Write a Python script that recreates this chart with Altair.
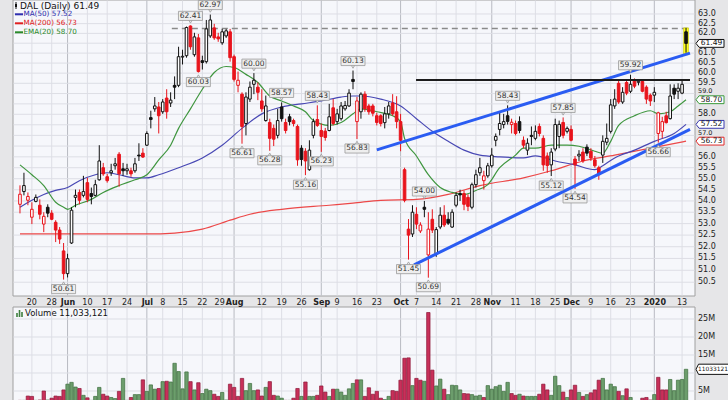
import altair as alt
import pandas as pd

# ---------------- data ----------------
holidays = ["2019-05-27", "2019-07-04", "2019-09-02", "2019-11-28", "2019-12-25", "2020-01-01"]
trading_days = [d.strftime("%Y-%m-%d") for d in pd.bdate_range("2019-05-15", "2020-01-14")
                if d.strftime("%Y-%m-%d") not in holidays]

opens = [53.85, 54.42, 54.03, 53.28, 53.98, 53.81, 52.98, 53.72, 53.46, 53.06,
         52.72, 51.82, 50.86, 52.16, 54.16, 54.38, 54.25, 54.82, 54.33, 54.25,
         54.95, 55.50, 55.09, 55.27, 55.59, 56.12, 55.45, 55.36, 55.36, 55.36,
         56.08, 56.17, 56.54, 57.84, 58.26, 58.35, 58.12, 58.78, 58.54, 59.40,
         59.40, 60.80, 60.87, 62.38, 60.92, 61.77, 60.62, 60.57, 61.87, 62.28,
         61.82, 61.52, 61.87, 62.08, 60.82, 59.40, 58.97, 57.56, 58.73, 59.45,
         59.31, 58.64, 57.70, 57.61, 57.33, 57.00, 58.35, 57.61, 57.88, 57.70,
         57.42, 56.40, 56.26, 55.41, 57.00, 57.75, 57.23, 57.20, 57.23, 58.31,
         57.65, 57.79, 58.26, 58.40, 59.69, 57.65, 58.12, 58.97, 58.40, 58.40,
         57.93, 57.93, 57.60, 58.02, 58.54, 58.12, 57.65, 55.41, 52.76, 52.55,
         53.41, 52.68, 53.72, 51.65, 53.19, 51.70, 52.85, 53.37, 53.19, 52.85,
         53.81, 54.33, 54.33, 54.16, 53.72, 54.73, 55.27, 54.91, 55.13, 55.59,
         56.77, 57.28, 57.51, 57.93, 57.51, 57.56, 57.65, 56.77, 56.31, 57.00,
         56.86, 57.42, 56.86, 56.04, 55.63, 56.36, 56.95, 57.61, 57.19, 57.28,
         55.90, 56.04, 56.22, 56.45, 56.26, 55.86, 55.50, 56.08, 56.68, 57.19,
         58.40, 59.50, 58.59, 59.54, 59.11, 59.65, 59.55, 59.59, 59.31, 58.92,
         58.92, 57.09, 57.19, 57.93, 57.79, 59.26, 59.11, 59.02, 62.08]
highs = [54.70, 55.27, 54.38, 53.94, 54.29, 54.07, 53.50, 53.85, 53.59, 53.15,
         52.85, 52.16, 51.70, 53.72, 54.51, 54.51, 55.13, 55.04, 54.60, 54.95,
         56.54, 55.72, 55.22, 55.68, 55.95, 56.22, 55.72, 55.68, 55.50, 55.95,
         56.63, 56.40, 57.19, 58.17, 58.83, 58.59, 58.73, 59.21, 59.06, 59.84,
         61.32, 61.17, 62.35, 62.41, 62.03, 61.97, 60.87, 62.69, 62.97, 62.49,
         62.03, 62.23, 62.23, 62.23, 60.92, 60.08, 59.06, 59.06, 59.59, 60.00,
         59.54, 59.21, 58.90, 57.79, 57.51, 58.26, 58.57, 57.79, 58.02, 57.79,
         57.51, 56.54, 56.40, 56.77, 57.79, 58.43, 57.56, 57.35, 58.50, 58.73,
         58.26, 58.59, 58.64, 59.21, 60.13, 58.83, 59.06, 59.11, 58.50, 58.50,
         58.07, 58.00, 58.35, 58.59, 58.97, 58.87, 58.02, 55.50, 53.20, 53.81,
         53.72, 53.06, 54.00, 53.50, 53.63, 52.85, 53.72, 53.81, 53.50, 53.63,
         54.38, 54.50, 54.47, 54.30, 54.82, 55.41, 55.95, 55.36, 55.72, 56.40,
         57.09, 58.12, 58.02, 58.43, 57.79, 57.70, 57.90, 56.95, 56.86, 57.42,
         57.47, 57.56, 57.00, 56.20, 56.40, 57.79, 57.70, 57.85, 57.42, 57.47,
         56.04, 56.31, 56.40, 56.58, 56.40, 56.04, 55.59, 57.00, 57.56, 58.73,
         59.21, 59.69, 59.31, 59.69, 59.92, 59.74, 59.70, 59.69, 59.40, 59.00,
         59.31, 58.12, 57.88, 58.12, 59.45, 59.45, 59.50, 59.69, 62.28]
lows = [53.45, 54.25, 53.81, 52.98, 53.94, 53.19, 52.63, 53.28, 53.15, 52.20,
        52.12, 50.61, 50.70, 52.12, 53.72, 53.85, 54.16, 53.94, 53.85, 54.20,
        54.91, 55.13, 54.82, 55.13, 55.41, 54.64, 55.13, 55.18, 55.09, 55.27,
        55.81, 55.95, 56.50, 57.33, 58.12, 57.09, 58.02, 57.79, 58.35, 58.73,
        59.31, 60.43, 60.77, 61.17, 60.82, 60.03, 60.18, 60.48, 61.77, 61.67,
        61.57, 61.42, 61.77, 60.57, 59.59, 59.06, 56.61, 57.00, 58.59, 58.97,
        58.68, 58.12, 57.65, 56.28, 56.50, 56.86, 57.65, 57.09, 57.47, 57.42,
        55.59, 55.59, 55.16, 55.36, 56.86, 57.40, 56.23, 56.75, 57.19, 57.47,
        57.51, 57.70, 58.17, 58.35, 59.21, 56.83, 57.79, 58.12, 57.98, 57.90,
        57.47, 57.42, 57.33, 57.79, 57.93, 57.33, 56.26, 53.94, 51.45, 52.42,
        52.76, 52.59, 53.28, 50.69, 52.59, 51.57, 52.76, 52.85, 52.94, 52.81,
        53.72, 54.00, 53.59, 53.55, 53.63, 54.60, 55.13, 54.51, 55.04, 55.50,
        56.49, 57.00, 57.33, 57.51, 57.09, 57.00, 57.10, 56.40, 56.08, 56.54,
        56.77, 56.95, 55.36, 55.27, 55.12, 56.26, 56.40, 56.86, 57.09, 56.72,
        54.54, 55.81, 55.72, 56.04, 55.81, 55.50, 54.95, 55.72, 56.54, 57.09,
        58.26, 58.50, 58.50, 58.92, 59.02, 59.26, 59.40, 59.06, 58.50, 58.40,
        58.59, 56.66, 56.86, 57.56, 57.75, 58.73, 58.73, 58.97, 61.02]
closes = [54.30, 54.69, 54.20, 53.63, 54.16, 53.41, 53.32, 53.46, 53.19, 52.72,
          52.33, 50.86, 51.49, 53.59, 54.25, 54.03, 54.42, 54.07, 54.20, 54.73,
          55.81, 55.22, 54.91, 55.36, 55.68, 55.22, 55.36, 55.45, 55.22, 55.68,
          56.04, 55.99, 57.09, 57.75, 58.40, 57.93, 58.59, 58.12, 58.68, 59.31,
          60.82, 60.84, 62.30, 61.32, 61.82, 60.08, 60.53, 62.23, 62.69, 61.77,
          61.72, 62.08, 62.13, 60.77, 59.69, 59.65, 57.42, 58.83, 59.31, 59.65,
          59.06, 58.26, 58.40, 56.86, 56.82, 57.70, 57.79, 57.23, 57.65, 57.56,
          55.86, 55.88, 55.81, 56.31, 57.65, 57.47, 56.95, 56.90, 57.88, 57.56,
          58.02, 58.40, 58.42, 59.02, 59.59, 58.64, 58.97, 58.26, 58.12, 58.05,
          57.61, 57.56, 58.02, 58.40, 58.02, 57.65, 56.77, 54.03, 52.50, 53.50,
          52.98, 52.94, 53.63, 52.76, 52.72, 52.74, 53.37, 52.94, 53.02, 53.50,
          54.25, 54.27, 53.85, 53.76, 54.73, 55.18, 55.50, 55.13, 55.59, 56.08,
          56.95, 57.56, 57.65, 57.66, 57.62, 57.09, 57.23, 56.54, 56.63, 56.95,
          57.19, 57.09, 55.63, 55.60, 56.22, 57.51, 57.52, 57.00, 57.33, 56.77,
          55.63, 56.12, 55.81, 56.17, 55.95, 55.59, 55.18, 56.72, 56.86, 58.45,
          58.73, 58.59, 59.06, 59.02, 59.45, 59.36, 59.60, 59.11, 58.73, 58.64,
          59.06, 58.07, 57.65, 57.60, 58.88, 58.97, 59.26, 59.45, 61.49]
volumes_m = [2.4, 2.4, 3.6, 3.5, 2.4, 2.5, 5.0, 2.5, 3.0, 3.6,
             3.5, 5.3, 6.9, 7.4, 6.1, 5.7, 3.8, 3.1, 2.4, 3.5,
             6.0, 4.1, 3.6, 3.2, 2.9, 4.9, 8.5, 2.4, 3.2, 4.0,
             4.0, 8.1, 4.9, 6.7, 5.5, 5.7, 7.6, 7.7, 7.5, 12.7,
             10.4, 5.6, 10.3, 7.6, 5.3, 7.3, 4.3, 5.5, 5.1, 4.1,
             3.5, 4.6, 2.5, 6.9, 6.0, 3.5, 8.5, 5.1, 7.1, 5.1,
             5.3, 3.6, 6.0, 7.6, 3.8, 3.6, 3.0, 2.4, 2.4, 3.0,
             5.7, 3.5, 7.5, 3.5, 3.5, 3.8, 6.4, 4.7, 3.5, 5.5,
             5.5, 4.7, 3.8, 5.6, 7.1, 8.1, 8.1, 3.5, 5.9, 4.1,
             4.9, 3.0, 2.6, 3.5, 5.1, 4.9, 8.0, 14.1, 14.2, 6.5,
             8.5, 8.0, 7.7, 26.8, 10.8, 6.4, 8.3, 5.5, 4.0, 6.6,
             6.5, 5.3, 4.3, 4.2, 4.0, 3.6, 3.8, 3.2, 6.5, 5.5,
             6.2, 6.6, 4.9, 7.4, 4.3, 3.8, 4.1, 3.6, 3.5, 3.5,
             3.5, 4.1, 6.9, 5.3, 3.8, 9.1, 6.5, 4.7, 3.2, 5.3,
             6.6, 4.6, 3.5, 4.0, 4.5, 5.3, 8.0, 8.5, 5.3, 6.9,
             6.2, 4.9, 3.7, 5.6, 3.2, 2.0, 1.5, 3.0, 3.2, 2.5,
             4.0, 8.8, 5.3, 5.3, 8.2, 5.1, 8.0, 8.2, 11.033121]

# moving averages read at sample days (trading-day index, value)
ema20_j = [0, 3, 6, 9, 11, 12, 14, 18, 21, 25, 29, 32, 35, 38, 40, 43, 46, 49, 52, 54,
           57, 60, 63, 66, 69, 72, 74, 78, 81, 84, 86, 90, 94, 96, 97, 100, 103, 106, 109, 112,
           115, 118, 121, 125, 127, 130, 134, 138, 141, 145, 147, 149, 151, 155, 159, 161, 164, 166, 168]
ema20_v = [55.63, 55.18, 54.69, 53.94, 53.72, 53.63, 53.81, 54.07, 54.38, 54.69, 54.95, 55.18, 55.86, 56.54, 57.33, 58.26, 59.21, 60.03, 60.33, 60.28,
           59.94, 59.54, 58.88, 58.64, 58.40, 58.12, 57.70, 57.47, 57.61, 58.02, 58.26, 58.12, 57.93, 57.65, 56.86, 56.04, 55.18, 54.60, 54.38, 54.29,
           54.47, 54.73, 55.50, 56.08, 56.40, 56.40, 56.54, 56.54, 56.49, 56.26, 56.17, 56.72, 57.47, 57.93, 58.17, 58.02, 58.12, 58.40, 58.70]
ma50_j = [0, 3, 6, 9, 12, 15, 19, 22, 25, 29, 32, 35, 40, 46, 51, 56, 61, 66, 71, 76,
          81, 84, 86, 91, 96, 100, 104, 108, 112, 116, 121, 127, 130, 135, 140, 145, 147, 150, 155, 160,
          165, 168]
ma50_v = [53.72, 54.03, 54.29, 54.47, 54.60, 54.91, 55.18, 55.27, 55.18, 55.04, 55.04, 55.18, 55.50, 55.95, 56.54, 57.33, 58.02, 58.35, 58.50, 58.64,
          58.83, 58.88, 58.88, 58.73, 58.40, 57.79, 57.19, 56.72, 56.31, 56.08, 56.00, 55.95, 56.04, 55.81, 55.63, 55.41, 55.59, 55.95, 56.31, 56.72,
          57.09, 57.52]
ma200_j = [0, 13, 21, 32, 39, 46, 53, 58, 66, 78, 84, 91, 100, 108, 116, 127, 134, 142, 150, 159, 168]
ma200_v = [52.55, 52.55, 52.55, 52.55, 52.59, 52.76, 53.15, 53.41, 53.63, 53.81, 53.90, 54.03, 54.07, 54.29, 54.69, 55.04, 55.36, 55.81, 56.08, 56.40, 56.73]

# drawn lines: (day, price) end points
trend_upper = [(90.0, 56.32), (169.0, 61.00)]
trend_lower = [(99.4, 51.23), (169.0, 57.28)]
resistance = [(99.9, 59.66), (169.0, 59.66)]
dashed_level = [(38.3, 62.25), (169.0, 62.25)]

# labelled highs / lows
ann_j = [43, 48, 45, 59, 56, 66, 63, 75, 76, 72, 84, 85, 102, 98, 103, 123, 137, 134, 140, 154, 161, 11]
ann_v = [62.41, 62.97, 60.03, 60.00, 56.61, 58.57, 56.28, 58.43, 56.23, 55.16, 60.13, 56.83, 54.00, 51.45,
         50.69, 58.43, 57.85, 55.12, 54.54, 59.92, 56.66, 50.61]
ann_pos = ["a", "a", "b", "a", "b", "a", "b", "a", "b", "b", "a", "b", "a", "b",
           "b", "a", "a", "b", "b", "a", "b", "b"]

tick_dates = ["2019-05-20", "2019-05-28", "2019-06-03", "2019-06-10", "2019-06-17", "2019-06-24",
              "2019-07-01", "2019-07-08", "2019-07-15", "2019-07-22", "2019-07-29", "2019-08-01",
              "2019-08-12", "2019-08-19", "2019-08-26", "2019-09-03", "2019-09-09", "2019-09-16",
              "2019-09-23", "2019-10-01", "2019-10-07", "2019-10-14", "2019-10-21", "2019-10-28",
              "2019-11-01", "2019-11-11", "2019-11-18", "2019-11-25", "2019-12-02", "2019-12-09",
              "2019-12-16", "2019-12-23", "2020-01-02", "2020-01-13"]
tick_labels = ["20", "28", "Jun", "10", "17", "24", "Jul", "8", "15", "22", "29", "Aug", "12", "19",
               "26", "Sep", "9", "16", "23", "Oct", "7", "14", "21", "28", "Nov", "11", "18", "25",
               "Dec", "9", "16", "23", "2020", "13"]
month_labels = ["Jun", "Jul", "Aug", "Sep", "Oct", "Nov", "Dec", "2020"]
price_ticks = [50.5, 51.0, 51.5, 52.0, 52.5, 53.0, 53.5, 54.0, 54.5, 55.0, 55.5, 56.0, 56.5,
               57.0, 57.5, 58.0, 58.5, 59.0, 59.5, 60.0, 60.5, 61.0, 61.5, 62.0, 62.5, 63.0]
hidden_price_labels = [61.5, 58.5, 57.5, 56.5]   # sit under the value tags
squeezed_price_labels = [59.0, 57.0]             # drawn a little smaller, between tags
vol_ticks = [5, 10, 15, 20, 25]
hidden_vol_labels = [10]

tag_values = [61.49, 58.70, 57.52, 56.73]
tag_colors = ["#111111", "#3a9a3a", "#3a3ab0", "#e02a2a"]

# ---------------- frames ----------------
RED, BLACK = "#e8141c", "#111111"
df = pd.DataFrame({"j": range(len(trading_days)), "date": trading_days,
                   "o": opens, "h": highs, "l": lows, "c": closes, "v": volumes_m})
prev = df["c"].shift(1)
up = (df["c"] >= prev)
up.iloc[0] = False
df["stroke"] = [BLACK if u else RED for u in up]
df["fill"] = ["#ffffff" if c > o else s for c, o, s in zip(df["c"], df["o"], df["stroke"])]
df["vfill"] = ["#6c9d6c" if u else "#c8305a" for u in up]
df["vstroke"] = ["#3e6e3e" if u else "#8c1838" for u in up]

GRID = "#dddee5"
tick_j = [trading_days.index(d) for d in tick_dates]
ticks_df = pd.DataFrame({"j": tick_j, "lab": tick_labels,
                         "month": [t in month_labels for t in tick_labels]})
ticks_df["gcol"] = ["#b8bac2" if m else GRID for m in ticks_df["month"]]

# ---------------- geometry ----------------
W, HTOT = 682, 400          # plot-area width, total height
MAIN_BOTTOM = 296           # bottom of the price panel
VOL_TOP = 307               # top of the volume panel
FONT = "DejaVu Sans"

xs = alt.Scale(domain=[-0.5, 169.0], nice=False, zero=False)
ys = alt.Scale(type="log", domain=[49.93, 63.73], range=[MAIN_BOTTOM, 0], nice=False, zero=False)
vs = alt.Scale(domain=[2.5, 28.33], range=[HTOT, VOL_TOP], nice=False, zero=False)

X = alt.X("j:Q", scale=xs, axis=None)


def Y(f):
    return alt.Y(f, scale=ys, axis=None)


def YV(f):
    return alt.Y(f, scale=vs, axis=None)


one = pd.DataFrame({"k": [0]})

# panels
panel_main = alt.Chart(one).mark_rect(fill="#f6f7fb", stroke="#a0a0a0", strokeWidth=1).encode(
    x=alt.value(0), x2=alt.value(W), y=alt.value(0), y2=alt.value(MAIN_BOTTOM))
panel_vol = alt.Chart(one).mark_rect(fill="#f6f7fb", stroke="#a0a0a0", strokeWidth=1).encode(
    x=alt.value(0), x2=alt.value(W), y=alt.value(VOL_TOP), y2=alt.value(HTOT + 2))

# grids
vgrid_main = alt.Chart(ticks_df).mark_rule(strokeWidth=1).encode(
    x=X, y=alt.value(0.5), y2=alt.value(MAIN_BOTTOM - 0.5), color=alt.Color("gcol:N", scale=None))
vgrid_vol = alt.Chart(ticks_df).mark_rule(strokeWidth=1).encode(
    x=X, y=alt.value(VOL_TOP + 0.5), y2=alt.value(HTOT), color=alt.Color("gcol:N", scale=None))
pt_df = pd.DataFrame({"p": price_ticks, "txt": [f"{v:.1f}" for v in price_ticks]})
hgrid_main = alt.Chart(pt_df).mark_rule(color=GRID, strokeWidth=1).encode(
    y=Y("p:Q"), x=alt.value(0.5), x2=alt.value(W - 0.5))
normal_lab = pt_df[~pt_df["p"].isin(hidden_price_labels + squeezed_price_labels)]
squeezed_lab = pt_df[pt_df["p"].isin(squeezed_price_labels)]
ylabels = alt.Chart(normal_lab).mark_text(
    font=FONT, fontSize=8, color="#222222", align="left", baseline="middle").encode(
    x=alt.value(W + 3), y=Y("p:Q"), text="txt:N")
ylabels_sq = alt.Chart(squeezed_lab).mark_text(
    font=FONT, fontSize=6.5, color="#222222", align="left", baseline="middle", dy=-2.6).encode(
    x=alt.value(W + 3), y=Y("p:Q"), text="txt:N")
vt_df = pd.DataFrame({"v": vol_ticks, "txt": [f"{v}M" for v in vol_ticks]})
hgrid_vol = alt.Chart(vt_df).mark_rule(color=GRID, strokeWidth=1).encode(
    y=YV("v:Q"), x=alt.value(0.5), x2=alt.value(W - 0.5))
vlabels = alt.Chart(vt_df[~vt_df["v"].isin(hidden_vol_labels)]).mark_text(
    font=FONT, fontSize=8, color="#222222", align="left", baseline="middle").encode(
    x=alt.value(W + 3), y=YV("v:Q"), text="txt:N")

# candles
base = alt.Chart(df)
wicks = base.mark_rule(strokeWidth=1).encode(
    x=X, y=Y("l:Q"), y2="h:Q", color=alt.Color("stroke:N", scale=None))
bodies = base.mark_bar(size=2.6, strokeWidth=1).encode(
    x=X, y=Y("o:Q"), y2="c:Q",
    fill=alt.Fill("fill:N", scale=None), stroke=alt.Stroke("stroke:N", scale=None))
highlight = alt.Chart(df[df["j"] == len(trading_days) - 1]).mark_bar(
    size=5, color="#ffff20", stroke="#c8c800", strokeWidth=0.6).encode(
    x=X, y=Y("h:Q"), y2=alt.Y2(datum=60.92))


def series(js, vals, color, width=1.2):
    return alt.Chart(pd.DataFrame({"j": js, "p": vals})).mark_line(
        color=color, strokeWidth=width, interpolate="monotone").encode(x=X, y=Y("p:Q"))


ema_line = series(ema20_j, ema20_v, "#3f963f")
ma50_line = series(ma50_j, ma50_v, "#4848b4")
ma200_line = series(ma200_j, ma200_v, "#ec4848")


def seg(points, color, width, dash=None):
    d = pd.DataFrame({"j": [p[0] for p in points], "p": [p[1] for p in points]})
    kw = dict(color=color, strokeWidth=width)
    if dash:
        kw["strokeDash"] = dash
    return alt.Chart(d).mark_line(**kw).encode(x=X, y=Y("p:Q"))


up_line = seg(trend_upper, "#2a5cf2", 3)
lo_line = seg(trend_lower, "#2a5cf2", 3)
res_line = seg(resistance, "#1c1c1c", 2)
dash_line = seg(dashed_level, "#8a8a8a", 1.4, [6, 4])

# labelled highs / lows
ann = pd.DataFrame({"j": ann_j, "p": ann_v, "pos": ann_pos,
                    "txt": [f"{v:.2f}" for v in ann_v]})
BOX = "M-1,-0.38L1,-0.38L1,0.38L-1,0.38Z"
ann_layers = []
for pos, off, tri in (("a", -9.5, "triangle-down"), ("b", 9.5, "triangle-up")):
    sub = ann[ann["pos"] == pos]
    c = alt.Chart(sub)
    ann_layers.append(c.mark_point(shape=tri, size=16, filled=True, fill="#eeeeee", opacity=1,
                                   stroke="#999999", strokeWidth=0.8,
                                   yOffset=off * 0.42).encode(x=X, y=Y("p:Q")))
    ann_layers.append(c.mark_point(shape=BOX, size=576, filled=True, fill="#eeeeee", opacity=1,
                                   stroke="#999999", strokeWidth=0.8,
                                   yOffset=off).encode(x=X, y=Y("p:Q")))
    ann_layers.append(c.mark_text(dy=off, font=FONT, fontSize=7.5, color="#333333").encode(
        x=X, y=Y("p:Q"), text="txt:N"))

# x tick labels between the panels ("29" nudged left so it does not touch "Aug")
xlab_layers = []
for sel, weight, dx in ((~ticks_df["month"] & (ticks_df["lab"] != "29"), "normal", 0),
                        (ticks_df["lab"] == "29", "normal", -2.5),
                        (ticks_df["month"], "bold", 0.5)):
    xlab_layers.append(alt.Chart(ticks_df[sel]).mark_text(
        font=FONT, fontSize=8, fontWeight=weight, color="#222222", baseline="middle",
        dx=dx).encode(x=X, y=alt.value(MAIN_BOTTOM + 6.5), text="lab:N"))

# legend (top-left)
legend_layers = [
    alt.Chart(one).mark_text(text="DAL (Daily) 61.49", align="left", baseline="middle",
                             font=FONT, fontSize=9, color="#111111").encode(
        x=alt.value(7), y=alt.value(5.5)),
]
for i, (txt, col) in enumerate((("MA(50) 57.52", "#2f2fb0"), ("MA(200) 56.73", "#e02020"),
                                ("EMA(20) 58.70", "#2a8a2a"))):
    yy = 14.3 + 9 * i
    legend_layers.append(alt.Chart(one).mark_rule(color=col, strokeWidth=2).encode(
        x=alt.value(2), x2=alt.value(10), y=alt.value(yy)))
    legend_layers.append(alt.Chart(one).mark_text(text=txt, align="left", baseline="middle",
                                                  font=FONT, fontSize=7.2, color=col).encode(
        x=alt.value(10.5), y=alt.value(yy)))
legend_layers.append(alt.Chart(one).mark_rule(color="#111111", strokeWidth=1).encode(
    x=alt.value(3), y=alt.value(2), y2=alt.value(9)))
legend_layers.append(alt.Chart(one).mark_rule(color="#111111", strokeWidth=2).encode(
    x=alt.value(3), y=alt.value(4), y2=alt.value(7)))

# right value tags
TAG = "M-1,0L-0.78,-0.28L1,-0.28L1,0.28L-0.78,0.28Z"
tags = pd.DataFrame({"p": tag_values, "col": tag_colors, "txt": [f"{v:.2f}" for v in tag_values]})
tag_shape = alt.Chart(tags).mark_point(shape=TAG, size=784, filled=True, fill="#ffffff",
                                       opacity=1, strokeWidth=1).encode(
    x=alt.value(W + 15), y=Y("p:Q"), stroke=alt.Stroke("col:N", scale=None))
tag_text = alt.Chart(tags).mark_text(font=FONT, fontSize=7.5, color="#111111").encode(
    x=alt.value(W + 16.5), y=Y("p:Q"), text="txt:N")

# volume
vol_bars = alt.Chart(df).mark_bar(size=3.4, strokeWidth=0.7, clip=True).encode(
    x=X, y=YV("v:Q"), y2=alt.Y2(datum=0),
    fill=alt.Fill("vfill:N", scale=None), stroke=alt.Stroke("vstroke:N", scale=None))
vol_title = alt.Chart(one).mark_text(text="Volume 11,033,121", align="left", baseline="middle",
                                     font=FONT, fontSize=8.5, color="#111111").encode(
    x=alt.value(12), y=alt.value(VOL_TOP + 6))
vol_icon = [alt.Chart(one).mark_rule(color="#3e7e3e", strokeWidth=1.6).encode(
    x=alt.value(xx), y=alt.value(VOL_TOP + top), y2=alt.value(VOL_TOP + 10))
    for xx, top in ((4, 6), (6.5, 3), (9, 5))]
vtag = pd.DataFrame({"v": [volumes_m[-1]], "txt": ["11033121"]})
vol_tag = alt.Chart(vtag).mark_point(shape="M-1,0L-0.85,-0.3L1,-0.3L1,0.3L-0.85,0.3Z",
                                     size=1156, filled=True, fill="#ffffff", opacity=1,
                                     stroke="#111111", strokeWidth=1).encode(
    x=alt.value(W + 18), y=YV("v:Q"))
vol_tag_text = alt.Chart(vtag).mark_text(font=FONT, fontSize=5.9, color="#111111",
                                         align="left").encode(
    x=alt.value(W + 3), y=YV("v:Q"), text="txt:N")

chart = alt.layer(
    panel_main, panel_vol, vgrid_main, vgrid_vol, hgrid_main, hgrid_vol, ylabels, ylabels_sq,
    vlabels, dash_line, ma200_line, ma50_line, ema_line, highlight, wicks, bodies,
    up_line, lo_line, res_line, *ann_layers, *xlab_layers, *legend_layers, tag_shape, tag_text,
    vol_bars, vol_title, *vol_icon, vol_tag, vol_tag_text
).resolve_scale(y="independent").properties(
    width=W, height=HTOT,
    autosize=alt.AutoSizeParams(type="none"),
    padding={"left": 13, "top": 0, "right": 728 - 13 - W, "bottom": 0}
).configure(background="#e6e6e8", font=FONT).configure_view(fill=None, stroke=None)

chart.save("out.html", embed_options={"renderer": "svg", "actions": False})
